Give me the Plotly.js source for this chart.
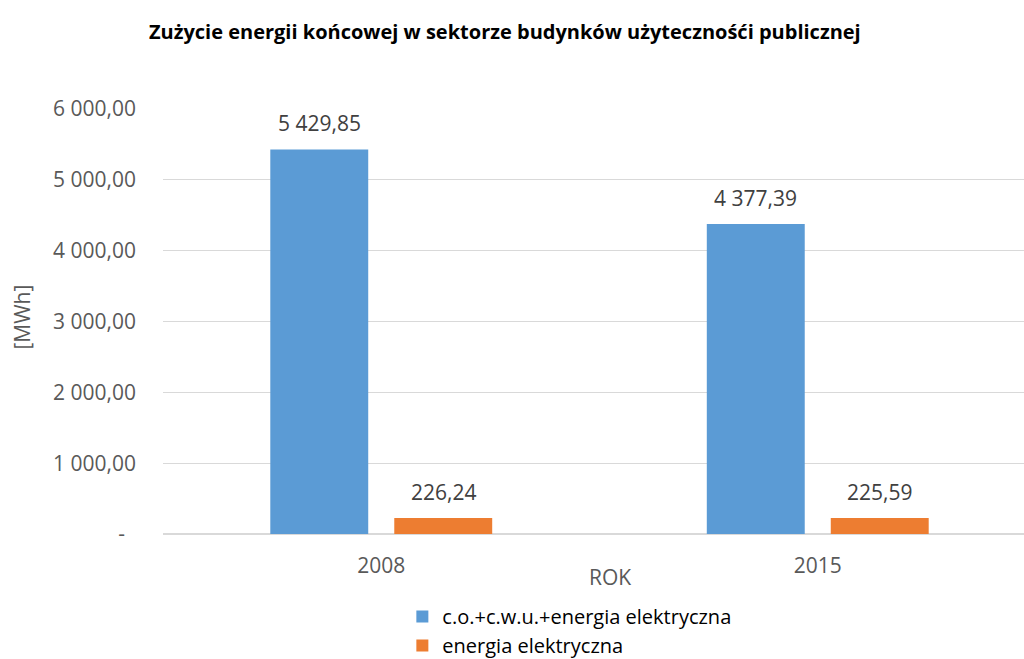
<!DOCTYPE html>
<html>
<head>
<meta charset="utf-8">
<script src="https://cdn.plot.ly/plotly-3.0.1.min.js"></script>
<style>html,body{margin:0;padding:0;background:#fff;}#chart{width:1024px;height:659px;}</style>
</head>
<body>
<div id="chart"></div>
<script>
const categories = ['2008', '2015'];
const seriesNames = ['c.o.+c.w.u.+energia elektryczna', 'energia elektryczna'];
const totalEnergy = [5429.85, 4377.39];
const electricEnergy = [226.24, 225.59];
const yTickValues = [0, 1000, 2000, 3000, 4000, 5000, 6000];
const yTickLabels = ['-\u00a0\u00a0', '1 000,00', '2 000,00', '3 000,00', '4 000,00', '5 000,00', '6 000,00'];

const colors = ['#5b9bd5', '#ed7d31'];
const seriesValues = [totalEnergy, electricEnergy];

function fmt(v) {
  const parts = v.toFixed(2).split('.');
  const intPart = parts[0].replace(/\B(?=(\d{3})+(?!\d))/g, ' ');
  return intPart + ',' + parts[1];
}

const fontFam = '"Open Sans", sans-serif';
const fs = 21;

const traces = seriesValues.map((vals, i) => ({
  type: 'bar',
  name: seriesNames[i],
  x: categories,
  y: vals,
  marker: {color: colors[i]},
  hoverinfo: 'none'
}));

const annotations = [];
seriesValues.forEach((vals, i) => {
  vals.forEach((v, j) => {
    annotations.push({
      x: j, y: v, xref: 'x', yref: 'y',
      xshift: i === 0 ? -62 : 62, yshift: 10,
      xanchor: 'center', yanchor: 'bottom', showarrow: false,
      text: fmt(v),
      font: {family: fontFam, size: fs, color: '#404040'}
    });
  });
});
annotations.push({
  xref: 'paper', yref: 'paper', x: 0.519, y: -0.101,
  xanchor: 'center', yanchor: 'middle', showarrow: false,
  text: 'ROK', font: {family: fontFam, size: fs, color: '#595959'}
});
annotations.push({
  xref: 'paper', yref: 'paper', x: -0.164, y: 0.511,
  xanchor: 'center', yanchor: 'middle', showarrow: false, textangle: -90,
  text: '[MWh]', font: {family: fontFam, size: fs, color: '#595959'}
});

const layout = {
  width: 1024, height: 659,
  margin: {l: 163, r: 0, t: 109, b: 125, autoexpand: false},
  paper_bgcolor: '#fff', plot_bgcolor: '#fff',
  title: {
    text: '<b>Zużycie energii końcowej w sektorze budynków użytecznośći publicznej</b>',
    font: {family: fontFam, size: 20, color: '#000'},
    x: 0.493, xref: 'container', xanchor: 'center',
    y: 1 - 32 / 659, yref: 'container', yanchor: 'middle'
  },
  barmode: 'group',
  bargap: 0.432,
  bargroupgap: 0.21,
  xaxis: {
    type: 'category',
    range: [-0.5, 1.4725],
    showgrid: false, zeroline: false, showline: false, ticks: '',
    ticklabelstandoff: 17,
    tickfont: {family: fontFam, size: fs, color: '#595959'},
    fixedrange: true
  },
  yaxis: {
    range: [0, 6000],
    tickvals: yTickValues, ticktext: yTickLabels,
    showgrid: true, gridcolor: '#d9d9d9', gridwidth: 1.3,
    zeroline: true, zerolinecolor: '#d9d9d9', zerolinewidth: 1.3,
    showline: false, ticks: '',
    ticklabelstandoff: 26,
    tickfont: {family: fontFam, size: fs, color: '#595959'},
    fixedrange: true
  },
  showlegend: true,
  legend: {
    orientation: 'v',
    x: 0.278, xanchor: 'left',
    y: -0.148, yanchor: 'top',
    font: {family: fontFam, size: 20, color: '#000'},
    itemwidth: 30,
    tracegroupgap: 0,
    bgcolor: 'rgba(0,0,0,0)'
  },
  annotations: annotations
};

Plotly.newPlot('chart', traces, layout, {displayModeBar: false, staticPlot: true});
</script>
</body>
</html>
